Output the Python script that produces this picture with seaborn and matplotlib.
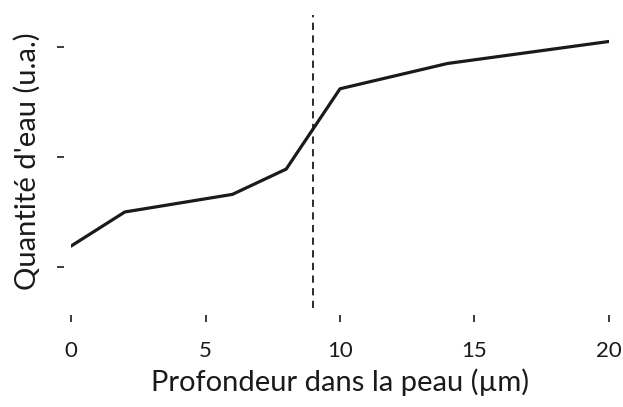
import numpy as np
import pandas as pd
import seaborn as sns
import matplotlib.pyplot as plt

# profondeur (µm) et quantité d'eau (unités arbitraires)
depth = [0, 2, 6, 8, 10, 14, 20]
water = [0.19, 0.50, 0.66, 0.89, 1.62, 1.85, 2.05]
threshold = 9
xticks = [0, 5, 10, 15, 20]
yticks = [0, 1, 2]

df = pd.DataFrame({"depth": depth, "water": water})

sns.set_style("white")
plt.rcParams['font.family'] = ['Lato', 'DejaVu Sans']

fig = plt.figure(figsize=(6.23, 4.07), dpi=100)
ax = fig.add_axes([0.114, 0.2432, 0.8635, 0.7198])

sns.lineplot(data=df, x="depth", y="water", ax=ax, color="#1a1a1a", linewidth=2.3)
ax.axvline(threshold, color="#1a1a1a", linestyle=(0, (4, 3)), linewidth=1.3)

ax.set_xlim(0, 20)
ax.set_ylim(-0.373, 2.29)
ax.set_xticks(xticks)
ax.set_xticklabels([str(t) for t in xticks])
ax.set_yticks(yticks)
ax.set_yticklabels([])
ax.tick_params(axis="both", direction="out", length=5, width=1.2, color="#1a1a1a",
               bottom=True, left=True, labelsize=16, labelcolor="#1a1a1a")
ax.tick_params(axis="x", pad=14)
ax.tick_params(axis="y", pad=4)

for side in ["top", "right", "left", "bottom"]:
    ax.spines[side].set_visible(False)
ax.spines["bottom"].set_position(("outward", 5))
ax.spines["left"].set_position(("outward", 5))

ax.set_xlabel("Profondeur dans la peau (µm)", fontsize=21, labelpad=5, color="#1a1a1a")
ax.set_ylabel("Quantité d'eau (u.a.)", fontsize=21, labelpad=8, color="#1a1a1a")

fig.savefig("out.png", dpi=100)
